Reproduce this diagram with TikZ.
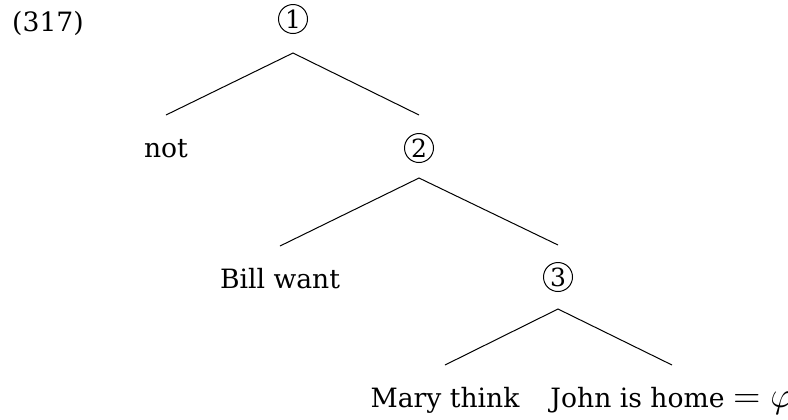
\documentclass[tikz,border=0pt]{standalone}
\usepackage{fontspec}
\setmainfont{DejaVu Serif}
\usetikzlibrary{calc}
\begin{document}
\begin{tikzpicture}[x=0.5pt,y=-0.5pt,
  font=\fontsize{13.3}{16}\selectfont,
  word/.style={anchor=base, inner sep=0pt},
  circnum/.style={circle, draw, line width=0.5pt, inner sep=0pt, minimum size=14.5pt,
                  font=\fontsize{12.5}{14}\selectfont},
  branch/.style={line width=0.5pt}]
\useasboundingbox (0,0) rectangle (788,419);

% example number
\node[word] (ex) at (48,31) {(317)};

% tree nodes
\node[circnum] (n1) at (293,19) {1};
\node[word]    (not) at (166,157) {not};
\node[circnum] (n2) at (419,148) {2};
\node[word]    (bw) at (280,288) {Bill want};
\node[circnum] (n3) at (558,277) {3};
\node[word]    (mt) at (445,407) {Mary think};
\node[word]    (jh) at (672,407) {John is home \scalebox{1.25}{$=\varphi$}};

% branches: from a point under each parent to a point above each daughter
\draw[branch] ($(not.base)+(0,-42)$) -- ($(n1.south)+(0,19)$) -- ($(n2.north)+(0,-18)$);
\draw[branch] ($(bw.base)+(0,-42)$) -- ($(n2.south)+(0,15)$) -- ($(n3.north)+(0,-17)$);
\draw[branch] ($(mt.base)+(0,-42)$) -- ($(n3.south)+(0,17)$) -- ($(jh.base)+(0,-42)$);
\end{tikzpicture}
\end{document}
